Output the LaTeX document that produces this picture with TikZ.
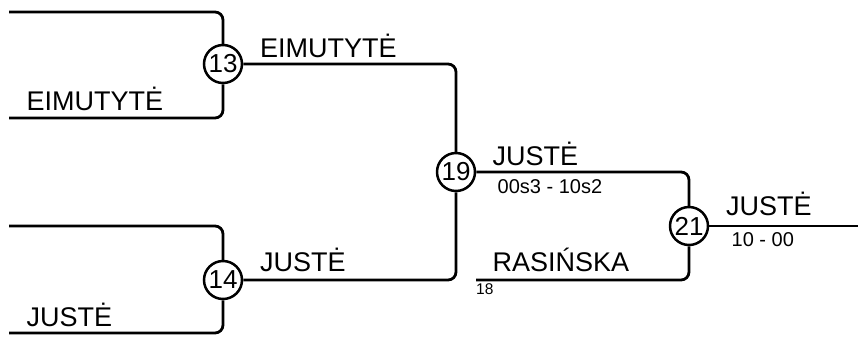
\documentclass[tikz,border=0pt]{standalone}
\usepackage{fontspec}
\setmainfont{Liberation Sans}
\begin{document}
\begin{tikzpicture}[x=1pt,y=-1pt,
  conn/.style={line width=2.8pt,rounded corners=8pt},
  seedbox/.style={circle,draw,line width=2.5pt,minimum size=38pt,inner sep=0pt,font=\fontsize{26}{30}\selectfont},
  playerlbl/.style={anchor=base west,inner sep=0pt,font=\fontsize{27}{32}\selectfont},
  scorelbl/.style={anchor=base west,inner sep=0pt,font=\fontsize{20}{24}\selectfont},
  tinylbl/.style={anchor=base west,inner sep=0pt,font=\fontsize{15.5}{18}\selectfont}]
\useasboundingbox (0,0) rectangle (858,338);
% circles
\node[seedbox] (c13) at (223,64) {13};
\node[seedbox] (c14) at (223,280) {14};
\node[seedbox] (c19) at (456,172) {19};
\node[seedbox] (c21) at (689,226) {21};
% free ends
\coordinate (a13t) at (9,12);
\coordinate (a13b) at (9,118);
\coordinate (a14t) at (9,226);
\coordinate (a14b) at (9,333);
\coordinate (r18) at (476,280);
\coordinate (fin) at (858,226);
% connectors
\draw[conn] (a13t) -| (c13.north);
\draw[conn] (a13b) -| (c13.south);
\draw[conn] (a14t) -| (c14.north);
\draw[conn] (a14b) -| (c14.south);
\draw[conn] (c13.east) -| (c19.north);
\draw[conn] (c14.east) -| (c19.south);
\draw[conn] (c19.east) -| (c21.north);
\draw[conn] (r18) -| (c21.south);
\draw[conn] (c21.east) -- (fin);
% labels
\node[playerlbl] (n13b) at (26.5,110) {EIMUTYTĖ};
\node[playerlbl] (n13) at (260,57) {EIMUTYTĖ};
\node[playerlbl] (n14b) at (26.5,326.5) {JUSTĖ};
\node[playerlbl] (n14) at (260,271) {JUSTĖ};
\node[playerlbl] (n19) at (492.5,165) {JUSTĖ};
\node[scorelbl] (s19) at (497.5,193) {00s3 - 10s2};
\node[playerlbl] (n18) at (492.5,271.5) {RASIŃSKA};
\node[tinylbl] (t18) at (476,294) {18};
\node[playerlbl] (n21) at (726,215) {JUSTĖ};
\node[scorelbl] (s21) at (731.5,246) {10 - 00};
\end{tikzpicture}
\end{document}
